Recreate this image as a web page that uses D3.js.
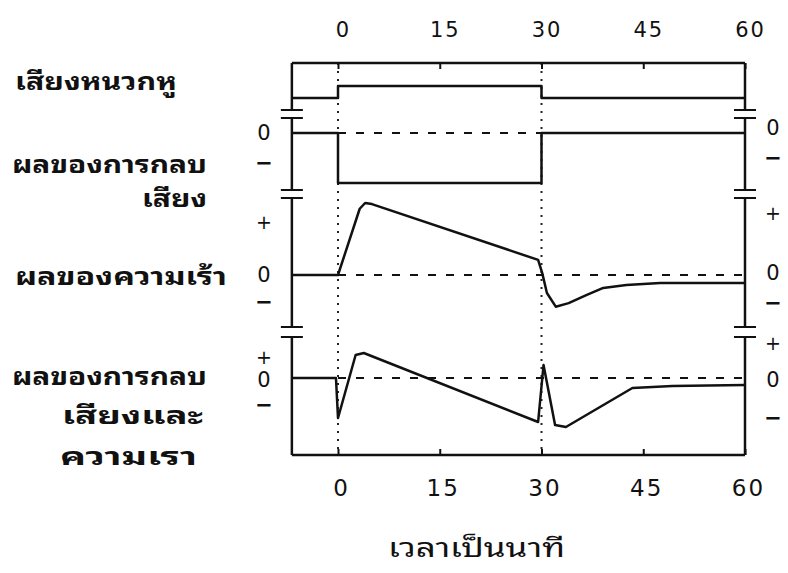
<!DOCTYPE html>
<html>
<head>
<meta charset="utf-8">
<script src="https://cdn.jsdelivr.net/npm/d3@7"></script>
<style>
body { margin: 0; background: #fff; }
.num { font-family: "DejaVu Sans", sans-serif; fill: #111; }
.thai { font-family: "Noto Sans Thai Looped", "Loma", "Garuda", "Norasi", "Kinnari", "Tlwg Typist", "Noto Serif Thai", "Noto Sans Thai", "DejaVu Sans", sans-serif; fill: #111; }
</style>
</head>
<body>
<script>
//minute ticks on the time axis
var minutes = [0, 15, 30, 45, 60];
var tStart = -6.8; //left edge of the frame, in minutes

//curves: [minute, relative level]
var noise = [[-6.8, 0], [0, 0], [0, 1], [30, 1], [30, 0], [60, 0]];
var masking = [[-6.8, 0], [0, 0], [0, -1], [30, -1], [30, 0], [60, 0]];
var arousal = [[-6.8, 0], [0, 0], [3.2, 0.92], [4.0, 1.0], [5.0, 0.985], [29.5, 0.21],
    [30.1, 0.03], [30.8, -0.25], [32.1, -0.44], [34.0, -0.39], [36.6, -0.28],
    [39.1, -0.18], [42.5, -0.14], [47.5, -0.11], [60, -0.11]];
var combined = [[-6.8, 0], [-0.3, 0], [0, -0.8], [2.6, 0.46], [3.8, 0.5], [29.5, -0.88],
    [30.3, 0.26], [32.0, -0.94], [33.6, -0.98], [43.4, -0.20], [49.3, -0.16], [60, -0.14]];

//row labels (Thai)
var rowLabels = [
    ["เสียงหนวกหู"],
    ["ผลของการกลบ", "เสียง"],
    ["ผลของความเร้า"],
    ["ผลของการกลบ", "เสียงและ", "ความเรา"]
];
var xTitle = "เวลาเป็นนาที";

var width = 788, height = 573;
var frameTop = 63, frameBottom = 455;

var svg = d3.select("body").append("svg")
    .attr("width", width)
    .attr("height", height);

var x = d3.scaleLinear().domain([0, 60]).range([338, 745]);
var left = x(tStart), right = x(60);

//panel layout: zero line pixel and pixels per unit
var panels = [
    {data: noise, zero: 98, unit: 12, dash: null},
    {data: masking, zero: 133, unit: 50, dash: [0, 30]},
    {data: arousal, zero: 275, unit: 72, dash: [0, 60]},
    {data: combined, zero: 378, unit: 50, dash: [0, 60]}
];

//frame breaks between panels (y pixel pairs)
var breaks = [[110, 118], [190, 198], [327, 337]];

//top and bottom border
svg.append("line").attr("x1", left).attr("x2", right).attr("y1", frameTop).attr("y2", frameTop)
    .attr("stroke", "#111").attr("stroke-width", 2.5);
svg.append("line").attr("x1", left).attr("x2", right).attr("y1", frameBottom).attr("y2", frameBottom)
    .attr("stroke", "#111").attr("stroke-width", 2.5);

//side borders with break marks
var segs = [];
var yPrev = frameTop;
breaks.forEach(function(b){ segs.push([yPrev, b[0]]); yPrev = b[1]; });
segs.push([yPrev, frameBottom]);
[left, right].forEach(function(xx){
    svg.selectAll(null).data(segs).enter().append("line")
        .attr("x1", xx).attr("x2", xx)
        .attr("y1", function(d){ return d[0]; })
        .attr("y2", function(d){ return d[1]; })
        .attr("stroke", "#111").attr("stroke-width", 2.5);
    breaks.forEach(function(b){
        b.forEach(function(yy){
            svg.append("line").attr("x1", xx - 11).attr("x2", xx + 11)
                .attr("y1", yy).attr("y2", yy)
                .attr("stroke", "#111").attr("stroke-width", 2);
        });
    });
});

//dotted verticals at 0 and 30 min
svg.selectAll(".vdot").data([0, 30]).enter().append("line")
    .attr("class", "vdot")
    .attr("x1", function(d){ return x(d); }).attr("x2", function(d){ return x(d); })
    .attr("y1", frameTop).attr("y2", frameBottom)
    .attr("stroke", "#222").attr("stroke-width", 2)
    .attr("stroke-dasharray", "2,6");

//axes (ticks inside the frame)
var topAxis = svg.append("g")
    .attr("transform", "translate(0," + frameTop + ")")
    .call(d3.axisTop(x).tickValues(minutes).tickSize(-6).tickPadding(26));
var bottomAxis = svg.append("g")
    .attr("transform", "translate(0," + frameBottom + ")")
    .call(d3.axisBottom(x).tickValues(minutes).tickSize(-6).tickPadding(25));
[topAxis, bottomAxis].forEach(function(g){
    g.select(".domain").remove();
    g.selectAll(".tick line").attr("stroke", "#111").attr("stroke-width", 2);
    g.selectAll(".tick text").attr("class", "num").attr("fill", "#111")
        .style("letter-spacing", "2px");
});
topAxis.selectAll(".tick text").style("font-size", "21px").attr("dx", 5);
bottomAxis.selectAll(".tick text").style("font-size", "23px").attr("dx", 3);

//curves and dashed zero lines
panels.forEach(function(p){
    var y = d3.scaleLinear().domain([-1, 1]).range([p.zero + p.unit, p.zero - p.unit]);
    if (p.dash) {
        svg.append("line")
            .attr("x1", x(p.dash[0])).attr("x2", x(p.dash[1]))
            .attr("y1", y(0)).attr("y2", y(0))
            .attr("stroke", "#111").attr("stroke-width", 2)
            .attr("stroke-dasharray", "8,10");
    }
    var line = d3.line()
        .x(function(d){ return x(d[0]); })
        .y(function(d){ return y(d[1]); });
    svg.append("path")
        .datum(p.data)
        .attr("d", line)
        .attr("fill", "none")
        .attr("stroke", "#111")
        .attr("stroke-width", 2.5)
        .attr("stroke-linejoin", "round");
});

//sign labels next to the frame
var signsLeft = [["0", 133], ["−", 163], ["+", 222], ["0", 275], ["−", 302], ["+", 357], ["0", 380], ["−", 405]];
var signsRight = [["0", 128], ["−", 158], ["+", 213], ["0", 273], ["−", 303], ["+", 343], ["0", 380], ["−", 418]];
function drawSigns(list, xx){
    svg.selectAll(null).data(list).enter().append("text")
        .attr("class", "num")
        .attr("x", xx).attr("y", function(d){ return d[1]; })
        .attr("dy", "0.35em")
        .attr("text-anchor", "middle")
        .style("font-size", function(d){ return d[0] === "+" ? "19px" : "21px"; })
        .style("font-weight", function(d){ return d[0] === "−" ? "bold" : "normal"; })
        .text(function(d){ return d[0]; });
}
drawSigns(signsLeft, 264);
drawSigns(signsRight, 773);

//row labels: [x start, x end, baseline]
var labelBoxes = [
    [[15, 177, 90]],
    [[12, 207, 173], [142, 207, 207]],
    [[15, 227, 285]],
    [[12, 207, 385], [62, 203, 424], [60, 197, 465]]
];
rowLabels.forEach(function(lines, i){
    lines.forEach(function(txt, j){
        var b = labelBoxes[i][j];
        svg.append("text")
            .attr("class", "thai")
            .attr("x", b[0]).attr("y", b[2])
            .attr("textLength", b[1] - b[0])
            .attr("lengthAdjust", "spacingAndGlyphs")
            .style("font-size", "25px")
            .style("font-weight", "bold")
            .text(txt);
    });
});

//axis title
svg.append("text")
    .attr("class", "thai")
    .attr("x", 388).attr("y", 557)
    .attr("textLength", 177)
    .attr("lengthAdjust", "spacingAndGlyphs")
    .style("font-size", "26px")
    .text(xTitle);
</script>
</body>
</html>
